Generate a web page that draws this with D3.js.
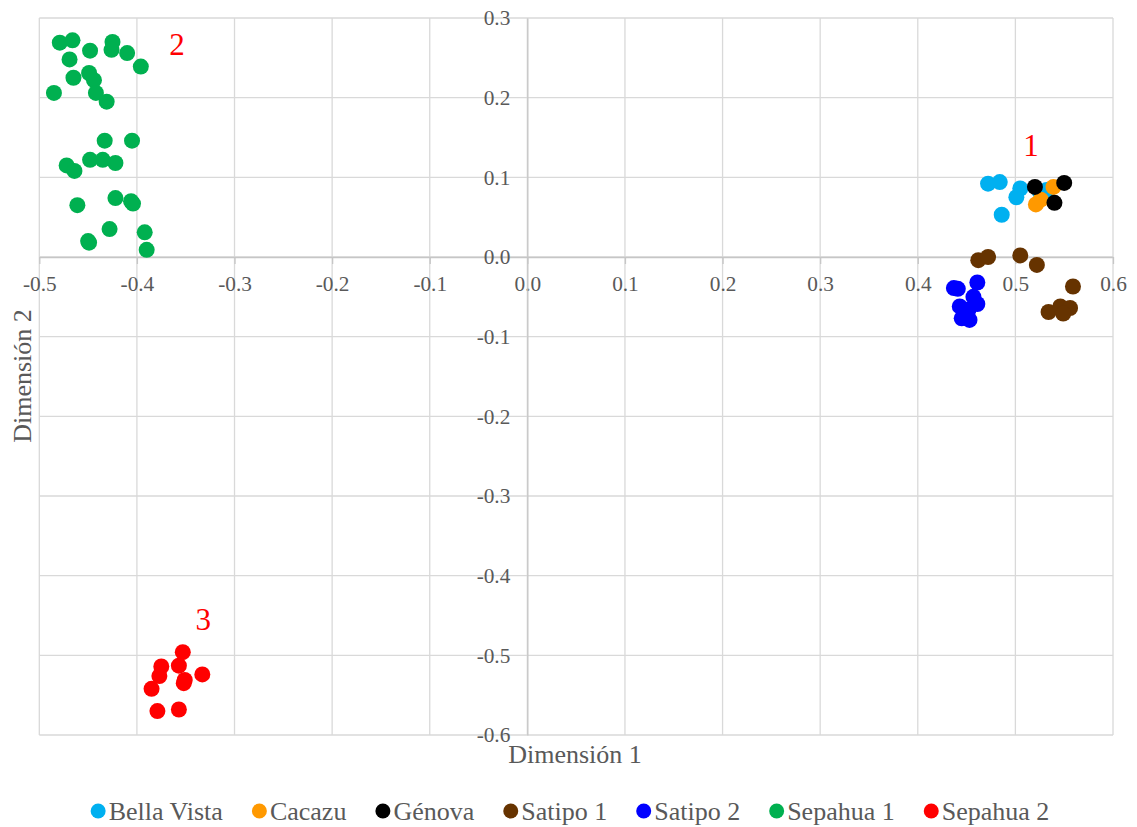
<!DOCTYPE html>
<html>
<head>
<meta charset="utf-8">
<script src="https://cdn.jsdelivr.net/npm/d3@7/dist/d3.min.js"></script>
<style>
  html, body { margin: 0; padding: 0; background: #ffffff; }
  svg { display: block; }
  svg text { font-family: "Liberation Serif", "Times New Roman", serif !important; }
</style>
</head>
<body>
<svg id="chart" width="1137" height="827"></svg>
<script>
// ---------- data ----------
const seriesNames = ["Bella Vista", "Cacazu", "Génova", "Satipo 1", "Satipo 2", "Sepahua 1", "Sepahua 2"];
const seriesColors = ["#00B0F0", "#FF9900", "#000000", "#663300", "#0000FF", "#00B050", "#FF0000"];

const bellaVista = [[0.472, 0.092], [0.484, 0.094], [0.505, 0.086], [0.501, 0.075], [0.486, 0.053], [0.525, 0.082], [0.532, 0.084]];
const cacazu = [[0.521, 0.066], [0.539, 0.088], [0.526, 0.072]];
const genova = [[0.520, 0.088], [0.550, 0.093], [0.540, 0.068]];
const satipo1 = [[0.462, -0.004], [0.472, 0.000], [0.505, 0.002], [0.522, -0.010], [0.559, -0.037],
                 [0.534, -0.069], [0.546, -0.062], [0.556, -0.064], [0.549, -0.071]];
const satipo2 = [[0.437, -0.039], [0.441, -0.040], [0.461, -0.032], [0.457, -0.050], [0.461, -0.059],
                 [0.443, -0.062], [0.445, -0.077], [0.453, -0.079], [0.452, -0.066]];
const sepahua1 = [[-0.479, 0.269], [-0.466, 0.272], [-0.448, 0.259], [-0.425, 0.270], [-0.426, 0.260],
                  [-0.410, 0.256], [-0.396, 0.239], [-0.469, 0.248], [-0.465, 0.225], [-0.449, 0.231],
                  [-0.444, 0.222], [-0.485, 0.206], [-0.442, 0.206], [-0.431, 0.195], [-0.433, 0.146],
                  [-0.405, 0.146], [-0.472, 0.115], [-0.464, 0.108], [-0.448, 0.122], [-0.435, 0.122],
                  [-0.422, 0.118], [-0.461, 0.065], [-0.422, 0.074], [-0.404, 0.067], [-0.406, 0.070],
                  [-0.428, 0.035], [-0.450, 0.020], [-0.449, 0.018], [-0.392, 0.031], [-0.390, 0.009]];
const sepahua2 = [[-0.353, -0.496], [-0.375, -0.514], [-0.357, -0.513], [-0.377, -0.526], [-0.351, -0.531],
                  [-0.333, -0.524], [-0.385, -0.542], [-0.379, -0.570], [-0.357, -0.568], [-0.352, -0.535]];
const seriesValues = [bellaVista, cacazu, genova, satipo1, satipo2, sepahua1, sepahua2];

const xTicks = [-0.5, -0.4, -0.3, -0.2, -0.1, 0.0, 0.1, 0.2, 0.3, 0.4, 0.5, 0.6];
const yTicks = [-0.6, -0.5, -0.4, -0.3, -0.2, -0.1, 0.0, 0.1, 0.2, 0.3];

const clusterLabels = ["1", "2", "3"];
const clusterPos = [[0.516, 0.127], [-0.359, 0.254], [-0.332, -0.468]];

const xTitle = "Dimensión 1";
const yTitle = "Dimensión 2";

// ---------- layout ----------
const FONT = '"Liberation Serif", "Times New Roman", serif';
const svg = d3.select("#chart");
const x = d3.scaleLinear().domain([-0.5, 0.6]).range([39.3, 1113]);
const y = d3.scaleLinear().domain([-0.6, 0.3]).range([735, 18]);
const gridColor = "#d9d9d9";
const axisColor = "#c6c6c6";
const textColor = "#595959";
const fmt = d => d.toFixed(1);

// grid
const grid = svg.append("g");
grid.selectAll("line.vx").data(xTicks).join("line")
  .attr("x1", d => x(d)).attr("x2", d => x(d))
  .attr("y1", y(0.3)).attr("y2", y(-0.6))
  .attr("stroke", gridColor).attr("stroke-width", 1.3);
grid.selectAll("line.hy").data(yTicks).join("line")
  .attr("y1", d => y(d)).attr("y2", d => y(d))
  .attr("x1", x(-0.5)).attr("x2", x(0.6))
  .attr("stroke", gridColor).attr("stroke-width", 1.3);

// x axis at y=0
const xAxis = svg.append("g")
  .attr("transform", `translate(0,${y(0)})`)
  .call(d3.axisBottom(x).tickValues(xTicks).tickFormat(fmt).tickSize(7).tickPadding(12).tickSizeOuter(0));
xAxis.attr("font-family", null).attr("font-size", null);
xAxis.select(".domain").attr("stroke", axisColor).attr("stroke-width", 1.3);
xAxis.selectAll(".tick line").attr("stroke", axisColor).attr("stroke-width", 1.3);
xAxis.selectAll(".tick text").attr("fill", textColor)
  .style("font-family", FONT).style("font-size", "21.3px");

// y axis at x=0
const yAxis = svg.append("g")
  .attr("transform", `translate(${x(0)},0)`)
  .call(d3.axisLeft(y).tickValues(yTicks).tickFormat(fmt).tickSize(0).tickPadding(17).tickSizeOuter(0));
yAxis.attr("font-family", null).attr("font-size", null);
yAxis.select(".domain").attr("stroke", axisColor).attr("stroke-width", 1.3);
yAxis.selectAll(".tick text").attr("fill", textColor)
  .style("font-family", FONT).style("font-size", "21.3px");

// points
const pts = svg.append("g");
seriesValues.forEach((vals, i) => {
  pts.append("g").selectAll("circle").data(vals).join("circle")
    .attr("cx", d => x(d[0])).attr("cy", d => y(d[1]))
    .attr("r", 8).attr("fill", seriesColors[i]);
});

// cluster labels
svg.append("g").selectAll("text").data(clusterLabels).join("text")
  .attr("x", (d, i) => x(clusterPos[i][0]))
  .attr("y", (d, i) => y(clusterPos[i][1]))
  .attr("text-anchor", "middle")
  .style("font-family", FONT).style("font-size", "31px")
  .attr("fill", "#FF0000")
  .text(d => d);

// axis titles
svg.append("text").attr("x", 575).attr("y", 763)
  .attr("text-anchor", "middle").style("font-family", FONT).style("font-size", "26px").attr("fill", textColor)
  .text(xTitle);
svg.append("text").attr("transform", "translate(31,376) rotate(-90)")
  .attr("text-anchor", "middle").style("font-family", FONT).style("font-size", "26px").attr("fill", textColor)
  .text(yTitle);

// legend
const legend = svg.append("g");
const items = legend.selectAll("g").data(seriesNames).join("g");
items.append("circle").attr("r", 7.5).attr("cy", 811).attr("fill", (d, i) => seriesColors[i]);
items.append("text").attr("y", 820).style("font-family", FONT).style("font-size", "26px")
  .attr("fill", textColor).text(d => d);
const r = 7.5, gapText = 3, gapItem = 29;
let widths = [];
items.each(function() { widths.push(d3.select(this).select("text").node().getComputedTextLength()); });
const total = widths.reduce((a, w) => a + 2 * r + gapText + w, 0) + gapItem * (widths.length - 1);
let cursor = 570 - total / 2;
items.each(function(d, i) {
  const g = d3.select(this);
  g.select("circle").attr("cx", cursor + r);
  g.select("text").attr("x", cursor + 2 * r + gapText);
  cursor += 2 * r + gapText + widths[i] + gapItem;
});
</script>
</body>
</html>
